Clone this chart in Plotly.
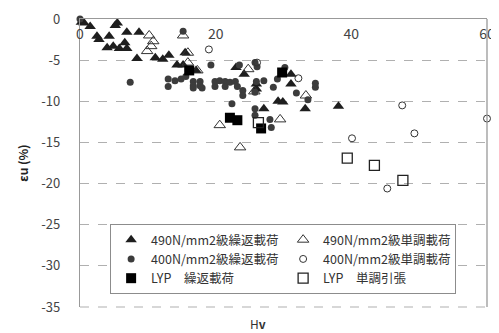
import plotly.graph_objects as go

# 490N/mm2 cyclic (filled triangles)
t490c_x = [0.2, 0.6, 1.5, 2.5, 2.8, 4.3, 5.2, 5.5, 6.9, 8.7, 4.0, 4.9, 5.8, 6.9, 6.6, 8.4,
           11.1, 12.2, 13.1, 15.5, 14.3, 15.2, 17.1, 23.0, 24.2, 26.0, 26.0, 31.1, 31.1,
           29.2, 29.9, 27.1, 33.2, 38.1]
t490c_y = [-0.4, -0.5, -0.9, -2.1, -2.5, -2.1, -0.8, -0.5, -1.6, -1.6, -3.5, -3.3, -3.6, -3.6, -2.9, -4.8,
           -4.7, -4.9, -4.4, -4.1, -5.6, -5.6, -6.25, -5.9, -6.7, -7.9, -8.5, -6.7, -7.9,
           -10.0, -10.1, -10.9, -10.9, -10.6]

# 490N/mm2 monotonic (open triangles)
t490m_x = [10.2, 10.8, 10.5, 9.9, 15.2, 15.9, 15.9, 17.3, 24.8, 33.3, 20.6, 23.6, 29.5, 25.7]
t490m_y = [-2.0, -2.7, -3.3, -3.9, -2.0, -4.1, -5.3, -6.25, -6.1, -9.3, -12.9, -15.6, -12.2, -8.8]

# 400N/mm2 cyclic (filled circles)
c400c_x = [0.0, 15.2, 7.4, 13.0, 13.0, 14.0, 14.9, 15.6, 16.7, 16.7, 16.7, 17.7, 17.7, 18.0,
           19.3, 19.9, 19.9, 20.6, 21.4, 21.4, 22.1, 22.9, 23.5, 23.2, 24.0, 24.0, 22.4,
           25.8, 26.1, 26.0, 25.8, 27.1, 29.1, 28.5, 30.2, 31.9, 33.6, 34.7, 34.7,
           25.8, 25.8, 28.0, 28.2]
c400c_y = [0.0, -1.5, -7.7, -7.3, -8.2, -7.5, -7.3, -7.0, -7.6, -8.1, -8.4, -7.6, -8.1, -8.4,
           -5.6, -7.6, -8.2, -7.5, -7.6, -8.2, -7.7, -7.6, -5.6, -8.2, -8.7, -9.3, -10.3,
           -5.3, -5.8, -7.6, -8.9, -7.5, -7.3, -8.3, -5.9, -9.0, -9.8, -7.8, -8.3,
           -10.9, -11.7, -12.2, -13.2]

# 400N/mm2 monotonic (open circles)
c400m_x = [19.0, 26.1, 32.2, 40.1, 47.5, 49.3, 45.3, 60.0]
c400m_y = [-3.7, -5.3, -7.2, -14.5, -10.5, -13.9, -20.6, -12.1]

# LYP cyclic (filled squares)
sLc_x = [16.1, 22.1, 23.2, 26.7, 29.8]
sLc_y = [-6.25, -12.0, -12.3, -13.3, -6.5]

# LYP monotonic tension (open squares)
sLm_x = [26.3, 39.4, 43.4, 47.6]
sLm_y = [-12.6, -16.9, -17.8, -19.6]

y_ticks = [0, -5, -10, -15, -20, -25, -30, -35]
y_labels = ["0", "-5", "-10", "-15", "-20", "-25", "-30", "-35"]
x_ticks = [0, 20, 40, 60]
x_labels = ["0", "20", "40", "60"]

FONT = "Noto Sans CJK JP"

fig = go.Figure()
fig.add_trace(go.Scatter(x=t490c_x, y=t490c_y, mode="markers", name="490N/mm2級繰返載荷",
                         marker=dict(symbol="triangle-up", size=10, color="#1e1e1e")))
fig.add_trace(go.Scatter(x=t490m_x, y=t490m_y, mode="markers", name="490N/mm2級単調載荷",
                         marker=dict(symbol="triangle-up-open", size=10, color="#333333",
                                     line=dict(width=1))))
fig.add_trace(go.Scatter(x=c400c_x, y=c400c_y, mode="markers", name="400N/mm2級繰返載荷",
                         marker=dict(symbol="circle", size=7, color="#3c3c3c")))
fig.add_trace(go.Scatter(x=c400m_x, y=c400m_y, mode="markers", name="400N/mm2級単調載荷",
                         marker=dict(symbol="circle-open", size=7, color="#333333",
                                     line=dict(width=1))))
fig.add_trace(go.Scatter(x=sLc_x, y=sLc_y, mode="markers", name="LYP　繰返載荷",
                         marker=dict(symbol="square", size=10, color="#000000")))
fig.add_trace(go.Scatter(x=sLm_x, y=sLm_y, mode="markers", name="LYP　単調引張",
                         marker=dict(symbol="square-open", size=10, color="#222222",
                                     line=dict(width=1.3))))
fig.update_traces(cliponaxis=False)

# the page body adds an 8px offset, so the figure is 8px smaller and margins shifted
fig.update_layout(
    width=491, height=325,
    margin=dict(l=72, r=12, t=11, b=26, autoexpand=False),
    paper_bgcolor="white", plot_bgcolor="white",
    font=dict(family=FONT, size=13, color="#444444"),
    showlegend=True,
    legend=dict(orientation="h", x=0.074, y=0.288, xanchor="left", yanchor="top",
                bgcolor="white", bordercolor="#8c8c8c", borderwidth=1,
                entrywidth=127, itemwidth=30,
                font=dict(family=FONT, size=12.5, color="#333333")),
    xaxis=dict(range=[0, 60], side="top", ticklabelposition="outside",
               ticklabelstandoff=-27, automargin=False,
               tickvals=x_ticks, ticktext=x_labels, showgrid=False, zeroline=False,
               showline=True, linecolor="#999999", linewidth=1.3, ticks="",
               tickfont=dict(family=FONT, size=14, color="#444444")),
    yaxis=dict(range=[-35, 0], tickvals=y_ticks, ticktext=y_labels, automargin=False,
               showgrid=True, gridcolor="#b0b0b0", griddash="dash", gridwidth=1.2,
               zeroline=False, showline=True, linecolor="#999999", linewidth=1.3,
               ticks="", ticklabelstandoff=16,
               tickfont=dict(family=FONT, size=13, color="#444444"),
               title=dict(text="<b>εu (%)</b>", standoff=10,
                          font=dict(family=FONT, size=12, color="#222222"))),
)

# right border of the plot area and dashed bottom edge
fig.add_shape(type="line", xref="x domain", yref="y domain", x0=1, x1=1, y0=0, y1=1,
              line=dict(color="#999999", width=1.3))
fig.add_shape(type="line", xref="x domain", yref="y domain", x0=0, x1=1, y0=0, y1=0,
              line=dict(color="#b0b0b0", width=1.2, dash="dash"))

fig.add_annotation(text="H<b>v</b>", xref="paper", yref="paper", x=0.437, y=0,
                   yshift=-16, showarrow=False, xanchor="center", yanchor="middle",
                   font=dict(family=FONT, size=12, color="#333333"))

fig.write_html("out.html")
